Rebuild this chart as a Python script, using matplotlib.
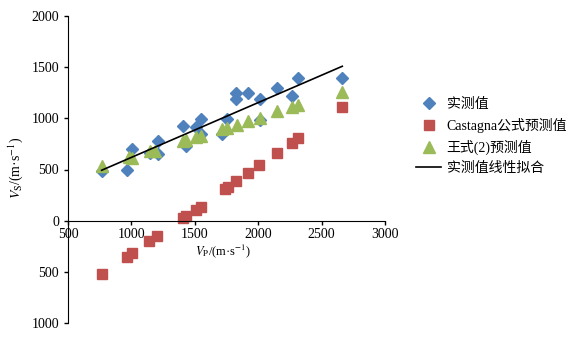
import matplotlib.pyplot as plt
import numpy as np
from matplotlib.ticker import FuncFormatter

plt.rcParams['font.family'] = ['Liberation Serif', 'Noto Sans CJK SC']
plt.rcParams['mathtext.fontset'] = 'stix'

# 实测值
vp_meas = [765, 962, 1006, 1146, 1211, 1211, 1403, 1434, 1508, 1545, 1545,
           1718, 1750, 1823, 1823, 1920, 2012, 2012, 2151, 2264, 2314, 2663]
vs_meas = [481, 498, 700, 660, 783, 650, 927, 732, 914, 992, 850,
           846, 992, 1252, 1187, 1252, 1193, 985, 1300, 1220, 1392, 1392]

# Castagna公式预测值
vp_cast = [765, 962, 1001, 1140, 1203, 1403, 1434, 1513, 1545, 1736, 1762,
           1828, 1920, 2006, 2151, 2264, 2316, 2663]
vs_cast = [-520, -351, -320, -200, -152, 26, 48, 107, 138, 310, 330,
           383, 465, 540, 660, 758, 803, 1106]

# 王式(2)预测值
vp_wang = [765, 980, 1006, 1146, 1190, 1403, 1434, 1510, 1545, 1718, 1750,
           1830, 1920, 2012, 2151, 2264, 2314, 2663]
vs_wang = [536, 627, 610, 676, 676, 774, 790, 820, 830, 895, 905,
           937, 976, 1008, 1073, 1115, 1132, 1262]

labels = ['实测值', 'Castagna公式预测值', '王式(2)预测值', '实测值线性拟合']

fig = plt.figure(figsize=(5.74, 3.38), dpi=100)
ax = fig.add_axes([68/574, 1 - 323/338, 317/574, 307/338])

h1, = ax.plot(vp_meas, vs_meas, 'D', color='#4F81BD', ms=6.5, ls='none')
h2, = ax.plot(vp_cast, vs_cast, 's', color='#C0504D', ms=7.5, ls='none')
h3, = ax.plot(vp_wang, vs_wang, '^', color='#9BBB59', ms=8, ls='none')

# linear fit of the measured values
k, b = np.polyfit(vp_meas, vs_meas, 1)
xs = np.array([min(vp_meas), max(vp_meas)])
h4, = ax.plot(xs, k * xs + b, color='black', lw=1.2)

ax.set_xlim(500, 3000)
ax.set_ylim(-1000, 2000)
ax.set_xticks(np.arange(500, 3001, 500))
ax.set_yticks(np.arange(-1000, 2001, 500))
ax.yaxis.set_major_formatter(FuncFormatter(lambda v, p: f'{abs(int(v))}'))

ax.spines['top'].set_visible(False)
ax.spines['right'].set_visible(False)
ax.spines['bottom'].set_position(('data', 0))
ax.tick_params(labelsize=10, direction='out', length=3, width=1)
ax.tick_params(axis='x', pad=2)

ax.text(1720, -300, r'$V_\mathrm{P}$/(m·s$^{-1}$)', ha='center', va='center', fontsize=9)
ax.set_ylabel(r'$V_\mathrm{S}$/(m·s$^{-1}$)', fontsize=10)
ax.yaxis.set_label_coords(-0.135, 0.505)

fig.legend([h1, h2, h3, h4], labels, loc='center left', bbox_to_anchor=(0.703, 0.596),
           frameon=False, fontsize=10, handlelength=1.8, handletextpad=0.4,
           labelspacing=0.5)

fig.savefig('out.png', dpi=100)
